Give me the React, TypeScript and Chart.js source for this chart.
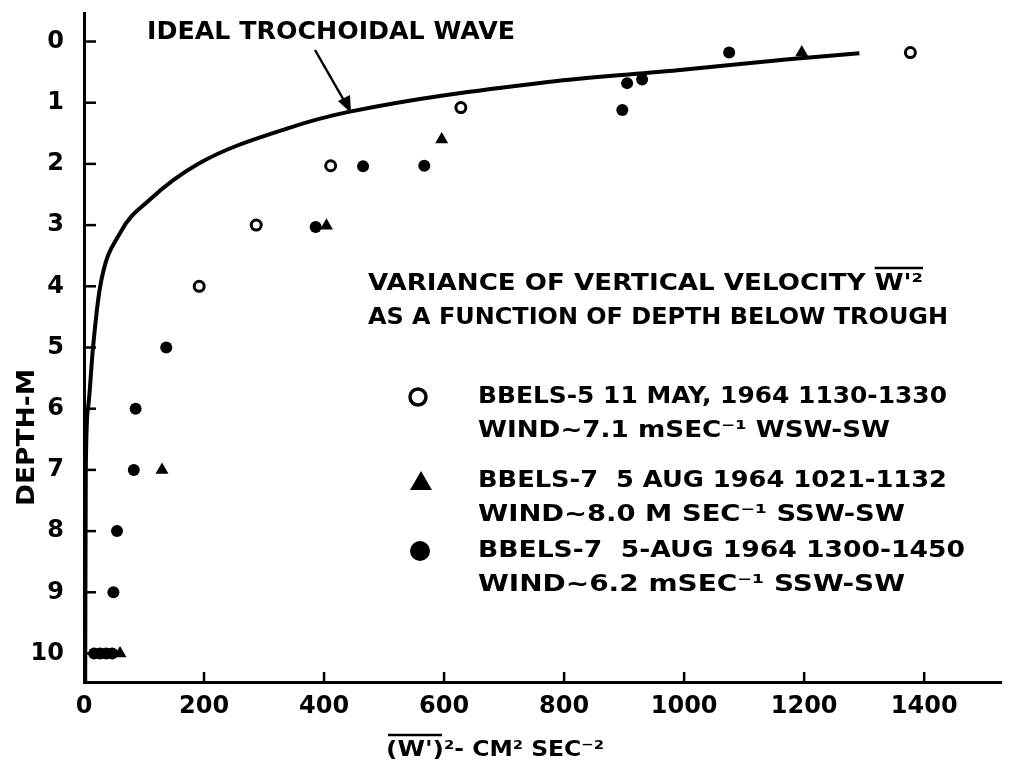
import React, { useEffect, useRef } from "react";
import { Chart, registerables } from "chart.js";
Chart.register(...registerables);

const FONT = '"DejaVu Sans"';

const xTickValues = [0, 200, 400, 600, 800, 1000, 1200, 1400];
const yTickValues = [0, 1, 2, 3, 4, 5, 6, 7, 8, 9, 10];

// ideal trochoidal wave curve
const curveValues = [2, 3, 7, 15, 27, 60, 109, 192, 342, 441, 773, 989, 1174, 1292];
const curveDepths = [10.45, 7.0, 5.97, 5.0, 4.0, 3.13, 2.59, 1.99, 1.41, 1.15, 0.66, 0.47, 0.29, 0.19];

// BBELS-5 (open circles)
const openValues = [1377, 628, 411, 287, 192];
const openDepths = [0.18, 1.08, 2.03, 3.0, 4.0];
// BBELS-7 1021-1132 (triangles)
const triValues = [1196, 596, 404, 130, 60];
const triDepths = [0.18, 1.6, 3.01, 7.0, 10.0];
// BBELS-7 1300-1450 (filled circles)
const filledValues = [1075, 905, 930, 897, 465, 567, 386, 137, 86, 83, 55, 49, 17, 27, 37, 47];
const filledDepths = [0.18, 0.68, 0.62, 1.12, 2.04, 2.03, 3.03, 5.0, 6.0, 7.0, 8.0, 9.0, 10, 10, 10, 10];

const legendTitle1 = "VARIANCE OF VERTICAL VELOCITY ";
const legendTitleW = "W'²";
const legendTitle2 = "AS A FUNCTION OF DEPTH BELOW TROUGH";
const legendRows = [
  ["BBELS-5 11 MAY, 1964 1130-1330", "WIND~7.1 mSEC⁻¹ WSW-SW"],
  ["BBELS-7  5 AUG 1964 1021-1132", "WIND~8.0 M SEC⁻¹ SSW-SW"],
  ["BBELS-7  5-AUG 1964 1300-1450", "WIND~6.2 mSEC⁻¹ SSW-SW"],
];
const curveLabel = "IDEAL TROCHOIDAL WAVE";
const yTitle = "DEPTH-M";
const xTitleA = "(W')";
const xTitleB = "²- CM² SEC⁻²";

const pts = (xs: number[], ys: number[]) => xs.map((v, i) => ({ x: v, y: ys[i] }));

function fitText(ctx: CanvasRenderingContext2D, text: string, x: number, y: number, size: number, width?: number, weight = "bold") {
  ctx.font = `${weight} ${size}px ${FONT}`;
  const w = ctx.measureText(text).width;
  const sx = width ? width / w : 1;
  ctx.save();
  ctx.translate(x, y);
  ctx.scale(sx, 1);
  ctx.textBaseline = "middle";
  ctx.textAlign = "left";
  ctx.fillStyle = "#000";
  ctx.fillText(text, 0, 0);
  ctx.restore();
  return sx;
}

const annotations = {
  id: "annotations",
  afterDraw(chart: any) {
    const { ctx, chartArea, scales } = chart;
    const xs = scales.x;
    const ys = scales.y;
    ctx.save();
    ctx.strokeStyle = "#000";
    ctx.fillStyle = "#000";
    // inward tick marks
    ctx.lineWidth = 2.5;
    xTickValues.slice(1).forEach((v) => {
      const px = xs.getPixelForValue(v);
      ctx.beginPath();
      ctx.moveTo(px, chartArea.bottom);
      ctx.lineTo(px, chartArea.bottom - 10);
      ctx.stroke();
    });
    yTickValues.forEach((v) => {
      const py = ys.getPixelForValue(v);
      ctx.beginPath();
      ctx.moveTo(chartArea.left, py);
      ctx.lineTo(chartArea.left + 12, py);
      ctx.stroke();
    });

    // curve label + arrow
    fitText(ctx, curveLabel, 147, 32, 25, 368);
    ctx.lineWidth = 2.5;
    ctx.beginPath();
    ctx.moveTo(315, 50);
    ctx.lineTo(346, 104);
    ctx.stroke();
    ctx.beginPath();
    ctx.moveTo(351, 113);
    ctx.lineTo(338, 101);
    ctx.lineTo(350, 95);
    ctx.closePath();
    ctx.fill();

    // legend title
    const sx1 = fitText(ctx, legendTitle1 + legendTitleW, 368, 284, 23, 555);
    ctx.font = `bold 23px ${FONT}`;
    const preW = ctx.measureText(legendTitle1).width * sx1;
    const wW = ctx.measureText(legendTitleW).width * sx1;
    ctx.lineWidth = 2.5;
    ctx.beginPath();
    ctx.moveTo(368 + preW, 268);
    ctx.lineTo(368 + preW + wW, 268);
    ctx.stroke();
    fitText(ctx, legendTitle2, 368, 318, 23, 580);

    const rowY = [397, 481, 551];
    const widths = [[469, 412], [469, 427], [487, 427]];
    legendRows.forEach((r, i) => {
      fitText(ctx, r[0], 478, rowY[i], 23, widths[i][0]);
      fitText(ctx, r[1], 478, rowY[i] + 34, 23, widths[i][1]);
    });
    // legend symbols
    ctx.lineWidth = 3.5;
    ctx.beginPath();
    ctx.arc(418, rowY[0], 8, 0, Math.PI * 2);
    ctx.stroke();
    ctx.beginPath();
    ctx.moveTo(421, rowY[1] - 10);
    ctx.lineTo(432, rowY[1] + 9);
    ctx.lineTo(410, rowY[1] + 9);
    ctx.closePath();
    ctx.fill();
    ctx.beginPath();
    ctx.arc(420, rowY[2], 10, 0, Math.PI * 2);
    ctx.fill();

    // y title
    ctx.save();
    ctx.translate(28, 438);
    ctx.rotate(-Math.PI / 2);
    fitText(ctx, yTitle, -68, 0, 24, 137);
    ctx.restore();

    // x title
    const sxa = fitText(ctx, xTitleA, 386, 750, 22, 58);
    ctx.font = `bold 22px ${FONT}`;
    const aw = ctx.measureText(xTitleA).width * sxa;
    fitText(ctx, xTitleB, 386 + aw, 750, 22, 160);
    ctx.lineWidth = 2.5;
    ctx.beginPath();
    ctx.moveTo(388, 735);
    ctx.lineTo(386 + aw - 2, 735);
    ctx.stroke();
    ctx.restore();
  },
};

export default function App() {
  const ref = useRef<HTMLCanvasElement>(null);
  useEffect(() => {
    if (!ref.current) return;
    const tickFont = { family: FONT, size: 24, weight: "bold" as const };
    const chart = new Chart(ref.current, {
      type: "scatter",
      data: {
        datasets: [
          {
            data: pts(openValues, openDepths),
            pointStyle: "circle",
            pointRadius: 5,
            pointBorderWidth: 3,
            pointBackgroundColor: "#fff",
            pointBorderColor: "#000",
          },
          {
            data: pts(triValues, triDepths),
            pointStyle: "triangle",
            pointRadius: 7.5,
            pointBorderWidth: 0,
            pointBackgroundColor: "#000",
            pointBorderColor: "#000",
          },
          {
            data: pts(filledValues, filledDepths),
            pointStyle: "circle",
            pointRadius: 6,
            pointBorderWidth: 0,
            pointBackgroundColor: "#000",
            pointBorderColor: "#000",
          },
          {
            data: pts(curveValues, curveDepths),
            showLine: true,
            pointRadius: 0,
            borderColor: "#000",
            borderWidth: 4,
            cubicInterpolationMode: "monotone",
          } as any,
        ],
      },
      options: {
        responsive: false,
        animation: false,
        layout: { padding: { top: 13, right: 4, left: 0, bottom: 0 } },
        plugins: { legend: { display: false }, tooltip: { enabled: false } },
        scales: {
          x: {
            type: "linear",
            min: 0,
            max: 1528,
            grid: { display: false },
            border: { display: true, color: "#000", width: 3 },
            ticks: {
              font: tickFont,
              color: "#000",
              padding: 2,
              maxRotation: 0,
              callback: (v: any) => String(v),
            },
            afterBuildTicks: (s: any) => {
              s.ticks = xTickValues.map((v) => ({ value: v }));
            },
            afterFit: (s: any) => {
              s.height = 91;
              s.paddingLeft = 0;
              s.paddingRight = 0;
            },
          },
          y: {
            type: "linear",
            reverse: true,
            min: -0.466,
            max: 10.466,
            grid: { display: false },
            border: { display: true, color: "#000", width: 3 },
            ticks: { font: tickFont, color: "#000", padding: 12, callback: (v: any) => String(v) },
            afterBuildTicks: (s: any) => {
              s.ticks = yTickValues.map((v) => ({ value: v }));
            },
            afterFit: (s: any) => {
              s.width = 84;
              s.paddingTop = 0;
              s.paddingBottom = 0;
            },
          },
        },
      },
      plugins: [annotations],
    });
    return () => chart.destroy();
  }, []);
  return (
    <canvas
      ref={ref}
      width={1009}
      height={773}
      style={{ position: "absolute", left: 0, top: 0, display: "block" }}
    />
  );
}
